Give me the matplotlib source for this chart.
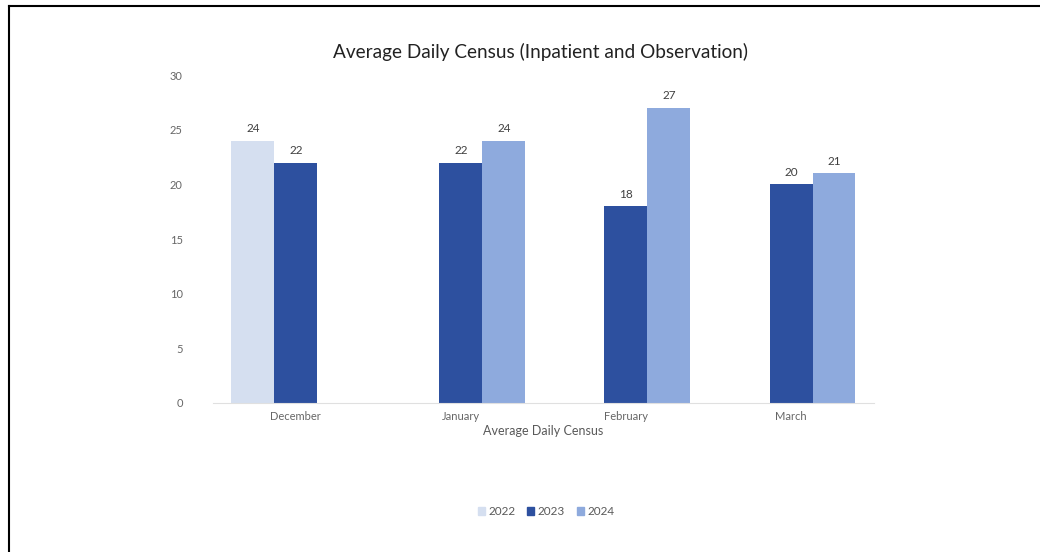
import numpy as np
import matplotlib.pyplot as plt
from matplotlib.lines import Line2D

plt.rcParams['font.family'] = ['Lato', 'DejaVu Sans']

# Data
months = ['December', 'January', 'February', 'March']
years = ['2022', '2023', '2024']
v2022 = [24, np.nan, np.nan, np.nan]
v2023 = [22, 22, 18, 20]
v2024 = [np.nan, 24, 27, 21]
colors = ['#d5dff0', '#2d509f', '#8eaadd']

fig = plt.figure(figsize=(10.4, 5.52), dpi=100)
ax = fig.add_axes([0.205, 0.27, 0.635, 0.594])

x = np.arange(len(months))
w = 0.26
for i, (vals, c, yr) in enumerate(zip([v2022, v2023, v2024], colors, years)):
    pos = x + (i - 1) * w
    bars = ax.bar(pos, vals, width=w, color=c, label=yr)
    for xp, v in zip(pos, vals):
        if not np.isnan(v):
            ax.text(xp, v + 0.6, f'{v:g}', ha='center', va='bottom',
                    fontsize=8.5, color='#404040')

ax.set_xlim(-0.5, 3.5)
ax.set_ylim(0, 30)
ax.set_yticks(range(0, 31, 5))
ax.set_xticks(x)
ax.set_xticklabels(months)
ax.tick_params(axis='both', length=0, labelsize=8, colors='#666666')
ax.tick_params(axis='y', pad=22)
ax.tick_params(axis='x', pad=6)
for s in ['left', 'right', 'top']:
    ax.spines[s].set_visible(False)
ax.spines['bottom'].set_color('#e0e0e0')

ax.set_xlabel('Average Daily Census', fontsize=9, color='#595959', labelpad=2)
fig.text(0.52, 0.905, 'Average Daily Census (Inpatient and Observation)',
         ha='center', va='center', fontsize=13.7, color='#222222')

handles = [plt.Rectangle((0, 0), 1, 1, color=c) for c in colors]
fig.legend(handles, years, loc='center', bbox_to_anchor=(0.525, 0.073),
           ncol=3, frameon=False, fontsize=8.5, handlelength=0.6,
           handleheight=0.6, handletextpad=0.3, columnspacing=1.0,
           labelcolor='#595959')

# page border (top and left only)
fig.add_artist(Line2D([0.0087, 1.0], [0.989, 0.989], color='black', lw=1.5,
                      transform=fig.transFigure))
fig.add_artist(Line2D([0.0087, 0.0087], [0.0, 0.989], color='black', lw=1.5,
                      transform=fig.transFigure))

fig.savefig('out.png', dpi=100)
